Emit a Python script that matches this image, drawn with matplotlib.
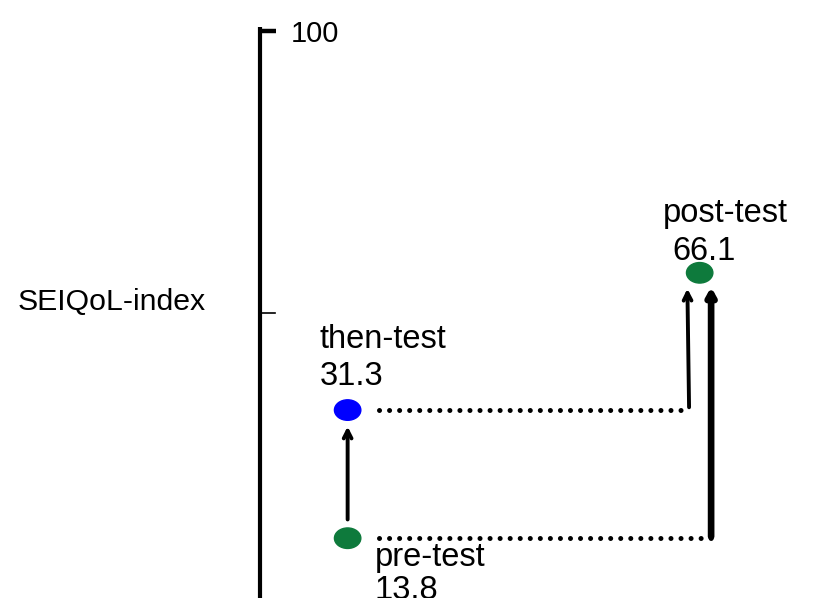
import matplotlib.pyplot as plt
from matplotlib.patches import Ellipse

plt.rcParams['font.family'] = ['Liberation Sans', 'DejaVu Sans']

# measurement occasions
labels = ['pre-test', 'then-test', 'post-test']
scores = [13.8, 31.3, 66.1]
x_pos = [1.0, 1.0, 5.0]
# heights as drawn in the schematic (not to scale with the scores)
y_draw = [10.5, 33.0, 57.1]
colors = ['#0e7a3c', '#0000ff', '#0e7a3c']

fig = plt.figure(figsize=(8.22, 5.98), dpi=100)
ax = fig.add_axes([0, 0, 1, 1])
ax.set_xlim(-2.95, 6.39)
ax.set_ylim(0, 105)
ax.axis('off')

# vertical scale
ax.plot([0, 0], [-1, 100.2], color='black', lw=3, solid_capstyle='butt')
ax.plot([0, 0.19], [99.6, 99.6], color='black', lw=3.2, solid_capstyle='butt')
ax.plot([0, 0.18], [50, 50], color='black', lw=1.2)
ax.text(0.35, 99.0, '100', fontsize=21, ha='left', va='center')
ax.text(-2.75, 52, 'SEIQoL-index', fontsize=21.8, ha='left', va='center')

# dotted connectors
pre, then, post = 0, 1, 2
dots = dict(ls=(0, (0.01, 2.0)), color='black', lw=3.6, dash_capstyle='round')
ax.plot([x_pos[then] + 0.36, x_pos[post] - 0.12], [y_draw[then]] * 2, **dots)
ax.plot([x_pos[pre] + 0.36, x_pos[post] + 0.13], [y_draw[pre]] * 2, **dots)

# arrows
ax.annotate('', xy=(x_pos[then], y_draw[then] - 2.4), xytext=(x_pos[pre], y_draw[pre] + 2.8),
            arrowprops=dict(arrowstyle='->,head_length=0.55,head_width=0.28', lw=2.8, color='black'))
ax.annotate('', xy=(x_pos[post] - 0.14, y_draw[post] - 2.3), xytext=(x_pos[post] - 0.12, y_draw[then]),
            arrowprops=dict(arrowstyle='->,head_length=0.55,head_width=0.28', lw=2.8, color='black'))
ax.annotate('', xy=(x_pos[post] + 0.13, y_draw[post] - 2.0), xytext=(x_pos[post] + 0.13, y_draw[pre] - 0.2),
            arrowprops=dict(arrowstyle='->,head_length=0.45,head_width=0.25', lw=4.8, color='black'))

# points
for x, y, c in zip(x_pos, y_draw, colors):
    ax.add_patch(Ellipse((x, y), 0.3, 3.6, color=c, zorder=5))

# labels
fs = 23.5
ax.text(x_pos[pre] + 0.31, y_draw[pre] - 4.9, labels[pre], fontsize=fs, ha='left', va='baseline')
ax.text(x_pos[pre] + 0.31, y_draw[pre] - 10.7, f'{scores[pre]}', fontsize=fs, ha='left', va='baseline')
ax.text(x_pos[then] - 0.32, y_draw[then] + 10.9, labels[then], fontsize=fs, ha='left', va='baseline')
ax.text(x_pos[then] - 0.32, y_draw[then] + 4.4, f'{scores[then]}', fontsize=fs, ha='left', va='baseline')
ax.text(x_pos[post] - 0.42, y_draw[post] + 8.9, labels[post], fontsize=fs, ha='left', va='baseline')
ax.text(x_pos[post] - 0.31, y_draw[post] + 2.25, f'{scores[post]}', fontsize=fs, ha='left', va='baseline')

fig.savefig('out.png', dpi=100)
